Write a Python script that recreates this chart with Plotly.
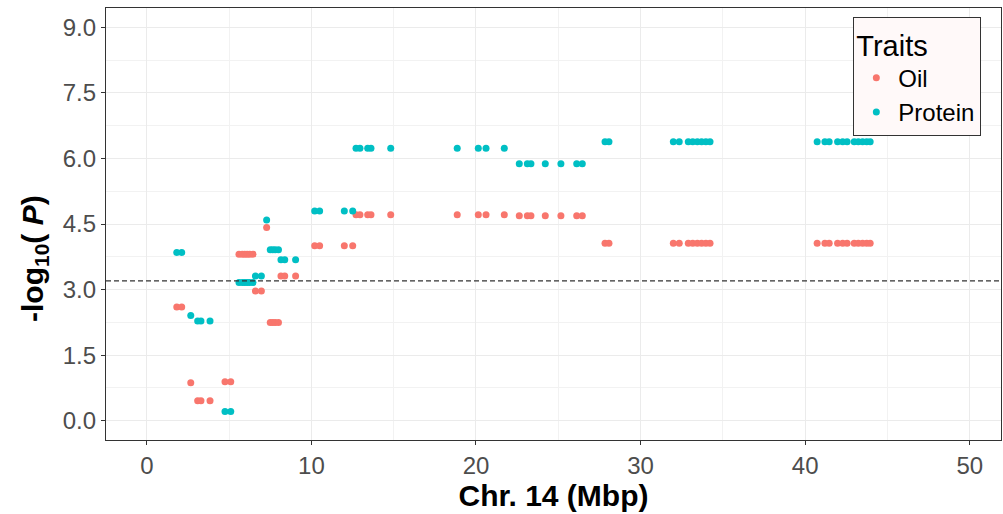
import plotly.graph_objects as go

# ---- data ----
oil_x = [1.82, 2.12, 2.67, 3.09, 3.29, 3.84, 4.75, 5.10,
         5.60, 5.80, 5.95, 6.10, 6.25, 6.45, 6.60, 6.96, 7.28,
         7.50, 7.65, 7.80, 8.00, 8.15, 8.38, 9.04,
         10.20, 10.50, 12.00, 12.51,
         12.71, 12.95, 13.42, 13.62, 14.82, 18.86, 20.14, 20.61, 21.72,
         22.63, 23.12, 23.34, 24.21, 25.16, 26.12, 26.46,
         27.84, 28.08,
         31.99, 32.35, 32.90, 33.17, 33.45, 33.71, 33.97, 34.22,
         40.73, 41.20, 41.46, 41.97, 42.28, 42.55, 42.98, 43.23, 43.49, 43.74, 43.95]
oil_y = [2.60, 2.60, 0.87, 0.46, 0.46, 0.46, 0.89, 0.89,
         3.81, 3.81, 3.81, 3.81, 3.81, 3.81, 2.97, 2.97, 4.42,
         2.25, 2.25, 2.25, 2.25, 3.31, 3.31, 3.31,
         4.00, 4.00, 4.00, 4.00,
         4.71, 4.71, 4.71, 4.71, 4.71, 4.71, 4.71, 4.71, 4.71,
         4.69, 4.69, 4.69, 4.69, 4.69, 4.69, 4.69,
         4.06, 4.06,
         4.06, 4.06, 4.06, 4.06, 4.06, 4.06, 4.06, 4.06,
         4.06, 4.06, 4.06, 4.06, 4.06, 4.06, 4.06, 4.06, 4.06, 4.06, 4.06]

protein_x = [1.82, 2.12, 2.67, 3.09, 3.29, 3.84, 4.75, 5.10,
             5.60, 5.80, 5.95, 6.10, 6.25, 6.45, 6.60, 6.96, 7.28,
             7.50, 7.65, 7.80, 8.00, 8.15, 8.38, 9.04,
             10.20, 10.50, 12.00, 12.51,
             12.71, 12.95, 13.42, 13.62, 14.82, 18.86, 20.14, 20.61, 21.72,
             22.63, 23.12, 23.34, 24.21, 25.16, 26.12, 26.46,
             27.84, 28.08,
             31.99, 32.35, 32.90, 33.17, 33.45, 33.71, 33.97, 34.22,
             40.73, 41.20, 41.46, 41.97, 42.28, 42.55, 42.98, 43.23, 43.49, 43.74, 43.95]
protein_y = [3.85, 3.85, 2.41, 2.28, 2.28, 2.28, 0.21, 0.21,
             3.16, 3.16, 3.16, 3.16, 3.16, 3.16, 3.31, 3.31, 4.59,
             3.91, 3.91, 3.91, 3.91, 3.68, 3.68, 3.68,
             4.80, 4.80, 4.80, 4.80,
             6.23, 6.23, 6.23, 6.23, 6.23, 6.23, 6.23, 6.23, 6.23,
             5.88, 5.88, 5.88, 5.88, 5.88, 5.88, 5.88,
             6.38, 6.38,
             6.38, 6.38, 6.38, 6.38, 6.38, 6.38, 6.38, 6.38,
             6.38, 6.38, 6.38, 6.38, 6.38, 6.38, 6.38, 6.38, 6.38, 6.38, 6.38]

THRESHOLD = 3.2
x_ticks = [0, 10, 20, 30, 40, 50]
y_ticks = [0.0, 1.5, 3.0, 4.5, 6.0, 7.5, 9.0]
trait_names = ["Oil", "Protein"]
trait_colors = ["#F8766D", "#00BFC4"]

FONT = "Liberation Sans, Arial, sans-serif"

fig = go.Figure()
for name, xs, ys, col in [(trait_names[0], oil_x, oil_y, trait_colors[0]),
                          (trait_names[1], protein_x, protein_y, trait_colors[1])]:
    fig.add_trace(go.Scatter(x=xs, y=ys, mode="markers", name=name,
                             marker=dict(color=col, size=7, line=dict(width=0))))

fig.add_shape(type="line", xref="paper", x0=0, x1=1, yref="y", y0=THRESHOLD, y1=THRESHOLD,
              line=dict(color="#333333", width=1.2, dash="5px,3px"), layer="above")

axis_common = dict(showline=True, linecolor="#333333", linewidth=1.1, mirror=True,
                   ticks="outside", ticklen=4, tickcolor="#333333", tickwidth=1,
                   gridcolor="#EBEBEB", gridwidth=1.1, zeroline=False,
                   tickfont=dict(family=FONT, size=24, color="#4D4D4D"))

fig.update_xaxes(range=[-2.48, 51.9], tickvals=x_ticks,
                 minor=dict(dtick=5, tick0=0, showgrid=True, gridcolor="#F2F2F2", gridwidth=0.6, ticks=""),
                 title=dict(text="<b>Chr. 14 (Mbp)</b>", font=dict(family=FONT, size=30, color="black"), standoff=4),
                 **axis_common)
fig.update_yaxes(range=[-0.44, 9.44], tickvals=y_ticks, ticktext=[f"{v:.1f}" for v in y_ticks],
                 minor=dict(dtick=0.75, tick0=0, showgrid=True, gridcolor="#F2F2F2", gridwidth=0.6, ticks=""),
                 **axis_common)

# y-axis title placed as an annotation so it sits where the reference has it
fig.add_annotation(text="<b>-log<sub>10</sub>( <i>P</i>)</b>", textangle=-90,
                   xref="paper", yref="paper", x=-0.0793, y=0.419,
                   xanchor="center", yanchor="middle", showarrow=False,
                   font=dict(family=FONT, size=30, color="black"))

fig.update_layout(
    width=1003, height=514,
    margin=dict(l=106, r=2, t=8, b=74),
    plot_bgcolor="white", paper_bgcolor="white",
    font=dict(family=FONT),
    legend=dict(x=0.835, y=0.979, xanchor="left", yanchor="top",
                bgcolor="#FFF9F9", bordercolor="#333333", borderwidth=1,
                title=dict(text="Traits", font=dict(family=FONT, size=29, color="black")),
                font=dict(family=FONT, size=24, color="black"),
                itemwidth=34, tracegroupgap=0),
)

fig.write_html("out.html")
